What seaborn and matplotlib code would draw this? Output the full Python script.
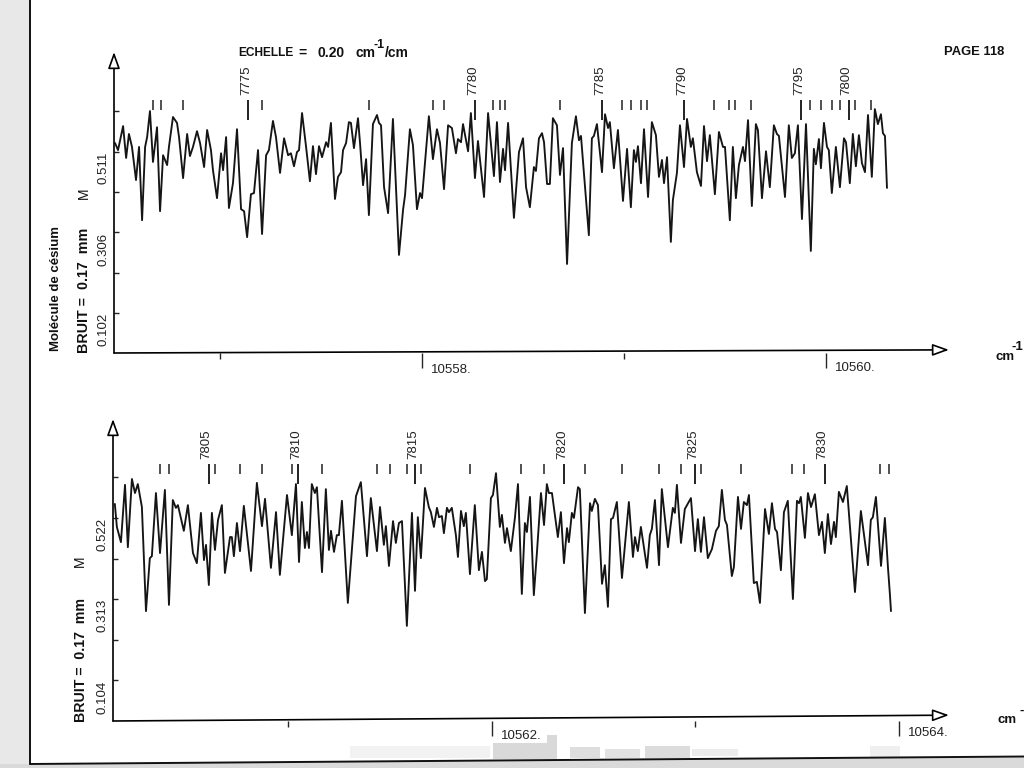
import numpy as np
import pandas as pd
import matplotlib
matplotlib.use('Agg')
import matplotlib.pyplot as plt
from matplotlib.lines import Line2D
from matplotlib.patches import Polygon, Rectangle
import seaborn as sns

# Spectre du haut : nombre d'onde (10556 + ...) et intensite
wn_top = [
    .480, .495, .520, .535, .549, .564, .584, .599, .614, .629, .639, .653, .668, .688, .703, .718, .738, .747, .767, .787,
    .797, .817, .837, .851, .866, .886, .901, .921, .936, .955, .965, .985, 1.005, 1.015, 1.030, 1.044, 1.064, 1.069, 1.084, 1.104,
    1.119, 1.134, 1.153, 1.168, 1.188, 1.208, 1.228, 1.242, 1.262, 1.277, 1.297, 1.317, 1.337, 1.351, 1.366, 1.381, 1.391, 1.406, 1.426, 1.445,
    1.460, 1.475, 1.490, 1.505, 1.525, 1.535, 1.549, 1.569, 1.584, 1.599, 1.609, 1.624, 1.638, 1.648, 1.663, 1.683, 1.693, 1.708, 1.723, 1.737,
    1.757, 1.777, 1.787, 1.797, 1.812, 1.832, 1.856, 1.886, 1.906, 1.916, 1.940, 1.955, 1.975, 1.990, 2.000, 2.034, 2.054, 2.074, 2.089, 2.109,
    2.129, 2.148, 2.168, 2.178, 2.193, 2.203, 2.228, 2.242, 2.262, 2.277, 2.307, 2.327, 2.356, 2.371, 2.386, 2.401, 2.411, 2.426, 2.455, 2.480,
    2.500, 2.515, 2.534, 2.554, 2.564, 2.579, 2.594, 2.604, 2.619, 2.633, 2.648, 2.668, 2.683, 2.698, 2.718, 2.742, 2.762, 2.777, 2.787, 2.826,
    2.841, 2.851, 2.866, 2.891, 2.906, 2.921, 2.930, 2.950, 2.970, 2.995, 3.015, 3.034, 3.049, 3.059, 3.069, 3.084, 3.099, 3.119, 3.138, 3.158,
    3.173, 3.188, 3.198, 3.213, 3.232, 3.242, 3.262, 3.277, 3.297, 3.312, 3.331, 3.341, 3.361, 3.381, 3.396, 3.411, 3.425, 3.450, 3.470, 3.490,
    3.500, 3.524, 3.539, 3.554, 3.569, 3.589, 3.599, 3.614, 3.633, 3.653, 3.663, 3.683, 3.703, 3.722, 3.742, 3.757, 3.767, 3.797, 3.816, 3.831,
    3.846, 3.861, 3.881, 3.901, 3.925, 3.940, 3.950, 3.965, 3.975, 3.990, 4.005, 4.014, 4.029, 4.049, 4.069, 4.089, 4.099, 4.118, 4.133, 4.148,
    4.163, 4.178, 4.193, 4.208, 4.227, 4.242, 4.257, 4.272, 4.282, 4.292, 4.302,
]
int_top = [
    .533, .515, .576, .495, .556, .523, .439, .523, .337, .523, .548, .614, .485, .573, .360, .502, .477, .523, .599, .584,
    .548, .444, .556, .500, .523, .563, .533, .472, .566, .515, .464, .393, .507, .464, .548, .368, .431, .464, .568, .365,
    .360, .294, .403, .406, .515, .302, .502, .515, .589, .548, .457, .545, .502, .507, .474, .510, .515, .609, .523, .436,
    .525, .454, .525, .497, .535, .523, .584, .391, .447, .459, .515, .533, .586, .584, .520, .596, .533, .426, .492, .350,
    .581, .604, .584, .578, .421, .355, .594, .249, .363, .401, .568, .528, .365, .406, .393, .601, .492, .568, .533, .416,
    .578, .571, .507, .543, .535, .581, .512, .609, .444, .538, .396, .609, .449, .586, .434, .518, .464, .584, .343, .510,
    .545, .421, .370, .472, .462, .545, .558, .535, .429, .429, .596, .578, .452, .520, .226, .533, .601, .540, .551, .299,
    .545, .551, .581, .459, .606, .571, .586, .469, .566, .386, .518, .370, .515, .485, .525, .431, .568, .396, .586, .553,
    .447, .490, .431, .497, .282, .388, .457, .578, .472, .594, .523, .545, .459, .424, .576, .487, .553, .403, .561, .523,
    .523, .337, .523, .393, .477, .523, .487, .591, .373, .581, .566, .393, .512, .421, .578, .556, .551, .396, .578, .495,
    .507, .578, .340, .581, .259, .518, .479, .543, .469, .584, .523, .515, .406, .523, .421, .545, .535, .431, .556, .474,
    .553, .482, .459, .604, .447, .619, .581, .606, .558, .551, .419,
]

# Spectre du bas : nombre d'onde (10560 + ...) et intensite
wn_bot = [
    .147, .157, .177, .197, .211, .231, .246, .260, .280, .300, .319, .329, .349, .369, .393, .413, .432, .447, .457, .486,
    .506, .531, .550, .570, .585, .595, .609, .624, .639, .654, .673, .688, .713, .722, .732, .747, .762, .781, .816, .845,
    .870, .885, .914, .939, .958, .993, 1.017, 1.037, 1.052, 1.066, 1.081, 1.091, 1.101, 1.115, 1.130, 1.140, 1.165, 1.184, 1.199, 1.209,
    1.224, 1.238, 1.248, 1.263, 1.292, 1.332, 1.356, 1.386, 1.405, 1.435, 1.450, 1.469, 1.479, 1.494, 1.514, 1.528, 1.543, 1.558, 1.582, 1.607,
    1.622, 1.636, 1.651, 1.671, 1.690, 1.700, 1.715, 1.730, 1.740, 1.754, 1.764, 1.779, 1.789, 1.803, 1.823, 1.833, 1.848, 1.862, 1.872, 1.892,
    1.916, 1.936, 1.951, 1.966, 1.975, 1.995, 2.005, 2.020, 2.039, 2.049, 2.064, 2.074, 2.093, 2.113, 2.128, 2.147, 2.162, 2.172, 2.187, 2.206,
    2.221, 2.241, 2.256, 2.270, 2.280, 2.295, 2.324, 2.339, 2.354, 2.369, 2.378, 2.393, 2.403, 2.423, 2.432, 2.457, 2.482, 2.491, 2.506, 2.521,
    2.541, 2.555, 2.570, 2.585, 2.595, 2.614, 2.639, 2.673, 2.693, 2.703, 2.717, 2.732, 2.762, 2.776, 2.786, 2.801, 2.821, 2.835, 2.865, 2.889,
    2.899, 2.909, 2.929, 2.948, 2.978, 2.998, 3.012, 3.027, 3.042, 3.061, 3.081, 3.101, 3.115, 3.130, 3.145, 3.155, 3.179, 3.189, 3.209, 3.224,
    3.238, 3.253, 3.263, 3.287, 3.302, 3.317, 3.342, 3.361, 3.376, 3.391, 3.401, 3.420, 3.435, 3.454, 3.479, 3.499, 3.509, 3.518, 3.538, 3.553,
    3.568, 3.587, 3.607, 3.622, 3.636, 3.651, 3.666, 3.681, 3.690, 3.705, 3.725, 3.744, 3.784, 3.813, 3.848, 3.862, 3.872, 3.887, 3.912, 3.931,
    3.946, 3.956, 3.961,
]
int_bot = [
    .557, .498, .459, .606, .446, .621, .585, .608, .549, .282, .418, .423, .585, .431, .593, .298, .567, .547, .554, .488,
    .554, .431, .405, .534, .413, .452, .349, .534, .439, .516, .554, .380, .472, .472, .423, .508, .436, .552, .385, .611,
    .500, .570, .393, .536, .375, .580, .477, .608, .408, .562, .444, .485, .444, .608, .585, .600, .382, .595, .439, .488,
    .434, .477, .477, .565, .303, .577, .613, .423, .572, .436, .549, .452, .500, .398, .513, .457, .508, .513, .244, .534,
    .334, .523, .418, .598, .549, .536, .498, .547, .523, .526, .482, .547, .536, .547, .477, .421, .539, .500, .534, .377,
    .554, .387, .434, .359, .364, .572, .580, .636, .498, .529, .457, .495, .436, .521, .608, .326, .508, .485, .575, .323,
    .431, .585, .503, .608, .585, .585, .472, .536, .405, .495, .459, .534, .521, .600, .595, .277, .559, .539, .570, .554,
    .352, .400, .293, .518, .521, .562, .367, .562, .421, .472, .436, .498, .393, .477, .493, .567, .400, .595, .446, .547,
    .534, .606, .457, .544, .572, .436, .518, .434, .523, .418, .441, .488, .500, .593, .516, .503, .372, .395, .575, .493,
    .562, .554, .580, .354, .357, .303, .544, .480, .559, .493, .485, .387, .536, .565, .313, .565, .559, .575, .470, .585,
    .549, .582, .477, .511, .431, .531, .454, .511, .472, .588, .562, .603, .331, .539, .400, .516, .523, .575, .398, .521,
    .395, .323, .282,
]

# Reperes de raies (courts et longs numerotes)
raies_top = [.668, .708, .817, 1.208, 1.737, 2.054, 2.109, 2.351, 2.386, 2.411, 2.683, 2.990, 3.034, 3.084, 3.114,
             3.445, 3.519, 3.549, 3.628, 3.920, 3.975, 4.029, 4.069, 4.143, 4.222]
num_top = [1.139, 2.262, 2.891, 3.297, 3.876, 4.113]
num_labels_top = ['7775', '7780', '7785', '7790', '7795', '7800']
raies_bot = [.369, .413, .639, .762, .870, 1.017, 1.165, 1.435, 1.499, 1.582, 1.651, 1.892, 2.142, 2.256, 2.457,
             2.639, 2.821, 2.929, 3.027, 3.224, 3.474, 3.533, 3.907, 3.951]
num_bot = [.609, 1.047, 1.622, 2.354, 2.998, 3.636]
num_labels_bot = ['7805', '7810', '7815', '7820', '7825', '7830']

yticks_top = [.102, .204, .306, .408, .511, .613]
ylabels_top = ['0.102', '', '0.306', '', '0.511', '']
yticks_bot = [.104, .209, .313, .417, .522, .626]
ylabels_bot = ['0.104', '', '0.313', '', '0.522', '']

major_top = [10558, 10560]
minor_top = [10557, 10559]
major_bot = [10562, 10564]
minor_bot = [10561, 10563]

sns.set_style('white')
plt.rcParams['font.family'] = ['Liberation Sans', 'DejaVu Sans']

W, H = 1024, 768
fig = plt.figure(figsize=(W / 100, H / 100), dpi=100)


def fx(px):
    return px / W


def fy(py):
    return 1 - py / H


# Fond du scan : marge grise, bords noirs, taches en bas
fig.add_artist(Rectangle((0, 0), fx(30), 1, color='#e8e8e8', lw=0, transform=fig.transFigure))
fig.add_artist(Polygon([(0, 0), (1, 0), (1, fy(757)), (fx(30), fy(764)), (0, fy(764))], color='#dadada', lw=0,
                       transform=fig.transFigure))
taches = [(350, 746, 490, 758, '#f2f2f2'), (493, 743, 557, 759, '#d9d9d9'), (547, 735, 557, 755, '#d9d9d9'),
          (570, 747, 600, 758, '#dedede'), (605, 749, 640, 758, '#e2e2e2'), (645, 746, 690, 758, '#dcdcdc'),
          (692, 749, 738, 756, '#ececec'), (870, 746, 900, 757, '#efefef')]
for x0, y0, x1, y1, c in taches:
    fig.add_artist(Rectangle((fx(x0), fy(y1)), fx(x1 - x0), (y1 - y0) / H, color=c, lw=0,
                             transform=fig.transFigure))
fig.add_artist(Line2D([fx(30), fx(30)], [fy(0), fy(764)], color='#111111', lw=1.4))
fig.add_artist(Line2D([fx(30), fx(1024)], [fy(764), fy(756.5)], color='#111111', lw=1.4))


def panneau(px0, py0, pyt, xlim, ylim, wn, val, raies, num, num_labels, yticks, ylabels,
            major, minor, y_short, y_long, y_top, tilt, major_off):
    ax = fig.add_axes([fx(px0), fy(py0), fx(950 - px0), (py0 - pyt) / H])
    ax.patch.set_alpha(0)
    df = pd.DataFrame({'wn': wn, 'val': val})
    sns.lineplot(data=df, x='wn', y='val', ax=ax, estimator=None, sort=False, color='#151515', lw=1.35,
                 solid_joinstyle='round')
    ax.set_xlim(*xlim)
    ax.set_ylim(*ylim)
    ax.set_xlabel('')
    ax.set_ylabel('')
    for s in ax.spines.values():
        s.set_visible(False)

    # axes fleches, creuses comme sur l'original
    fleche = dict(arrowstyle='-|>,head_width=0.36,head_length=1.0', fc='white', ec='black', lw=1.2,
                  shrinkA=0, shrinkB=0)
    ax.annotate('', xy=(xlim[0], ylim[1]), xytext=(xlim[0], 0), annotation_clip=False, arrowprops=fleche)
    ax.annotate('', xy=(xlim[1] - 0.005, tilt), xytext=(xlim[0], 0), annotation_clip=False, arrowprops=fleche)

    ax.set_yticks(yticks)
    ax.set_yticklabels(ylabels, rotation=90, va='top', fontsize=9.5, color='#222222')
    ax.tick_params(axis='y', direction='in', length=3.5, width=1, left=True, pad=3)
    ax.set_xticks(major)
    ax.set_xticklabels([])
    ax.set_xticks(minor, minor=True)
    ax.tick_params(axis='x', which='major', direction='out', length=11, width=1, bottom=True)
    ax.tick_params(axis='x', which='minor', direction='out', length=4, width=1, bottom=True)

    for m in major:
        y_axe = tilt * (m - xlim[0]) / (xlim[1] - xlim[0])
        ax.annotate(f'{m}.', (m, y_axe), xytext=(6.5, major_off), textcoords='offset points', fontsize=9.5,
                    va='center', ha='left', color='#222222', annotation_clip=False)

    ax.vlines(raies, y_short, y_top, color='#222222', lw=1.1)
    ax.vlines(num, y_long, y_top, color='#111111', lw=1.3)
    for x, lab in zip(num, num_labels):
        ax.annotate(lab, (x, y_top), xytext=(-1.5, 3.5), textcoords='offset points', rotation=90, fontsize=9.5,
                    ha='center', va='bottom', color='#222222', annotation_clip=False)
    return ax


panneau(114, 353, 52, (10556.475, 10560.614), (0, .764),
        10556 + np.array(wn_top), int_top, 10556 + np.array(raies_top), 10556 + np.array(num_top), num_labels_top,
        yticks_top, ylabels_top, major_top, minor_top, .616, .591, .642, .008, -13)
panneau(113, 721, 419, (10560.138, 10564.251), (0, .775),
        10560 + np.array(wn_bot), int_bot, 10560 + np.array(raies_bot), 10560 + np.array(num_bot), num_labels_bot,
        yticks_bot, ylabels_bot, major_bot, minor_bot, .634, .608, .659, .015, -12.7)


# Textes du bandeau et de la marge
def texte(px, py, s, **kw):
    kw.setdefault('color', '#111111')
    fig.text(fx(px), fy(py), s, **kw)


texte(238, 53, 'ECHELLE', fontsize=8.6, fontweight='bold', va='center')
for px, s in [(298, '='), (318, '0.20'), (356, 'cm'), (385, '/cm')]:
    texte(px, 53, s, fontsize=10, fontweight='bold', va='center')
texte(374, 45, '-1', fontsize=9, fontweight='bold', va='center')
texte(944, 52, 'PAGE 118', fontsize=9.4, fontweight='bold', va='center')
texte(995, 357, 'cm', fontsize=9.5, fontweight='bold', va='center')
texte(1012, 347, '-1', fontsize=9.5, fontweight='bold', va='center')
texte(998, 720, 'cm', fontsize=9.5, fontweight='bold', va='center')
texte(1019, 711, '-', fontsize=9.5, fontweight='bold', va='center')

texte(56, 289, 'Molécule de césium', fontsize=9.5, fontweight='bold', rotation=90, va='center', ha='center')
texte(84, 290, 'BRUIT =  0.17  mm', fontsize=10.3, fontweight='bold', rotation=90, va='center', ha='center')
texte(84, 193, 'M', fontsize=10, rotation=90, va='center', ha='center')
texte(81, 660, 'BRUIT =  0.17  mm', fontsize=10.2, fontweight='bold', rotation=90, va='center', ha='center')
texte(80, 561, 'M', fontsize=10, rotation=90, va='center', ha='center')

fig.savefig('out.png', dpi=100)
